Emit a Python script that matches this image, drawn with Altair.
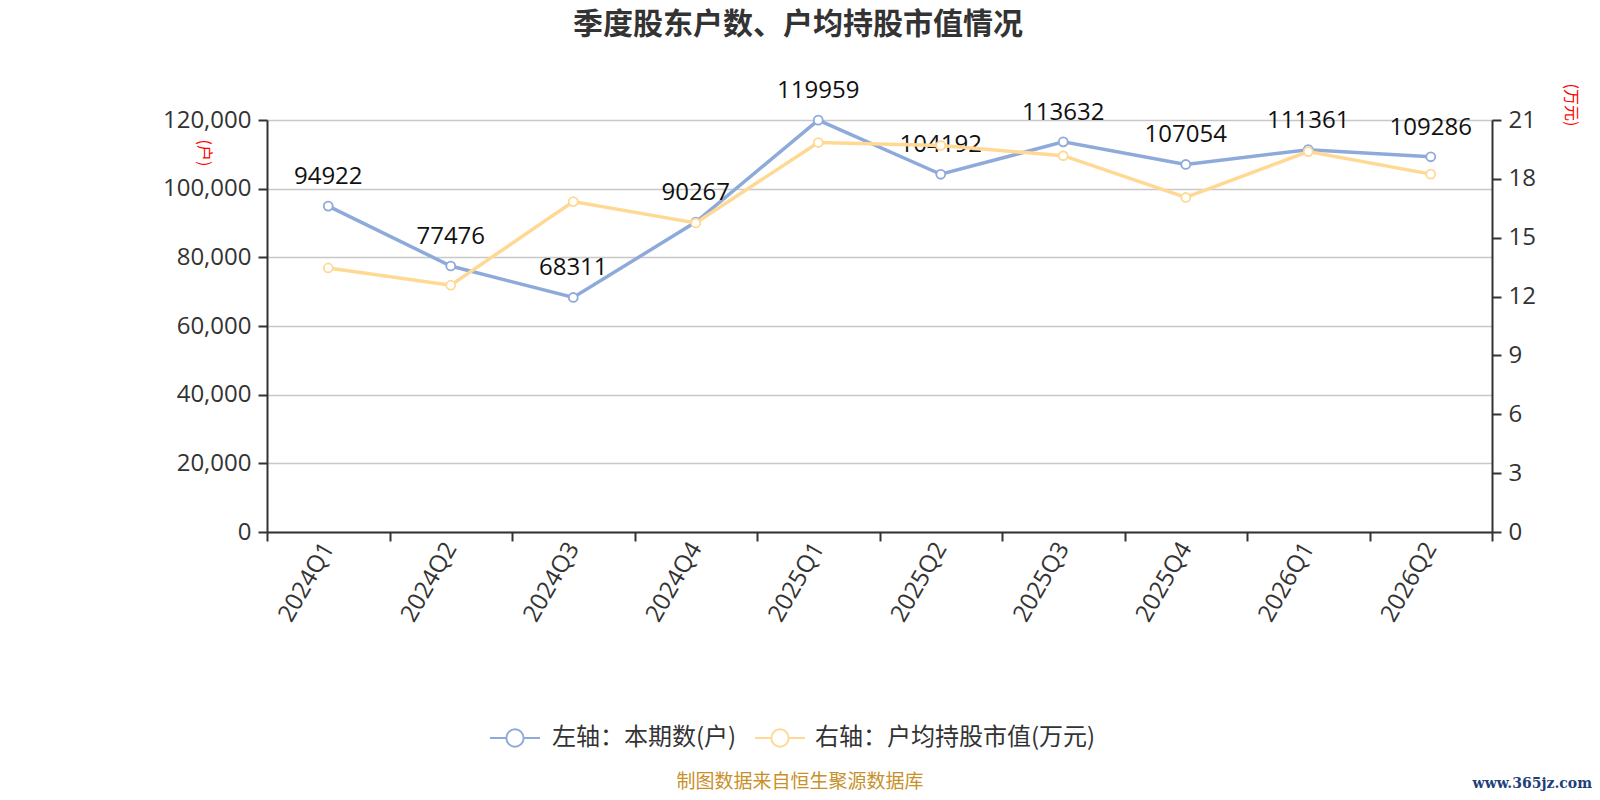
import altair as alt
import pandas as pd

quarters = ["2024Q1", "2024Q2", "2024Q3", "2024Q4", "2025Q1", "2025Q2", "2025Q3", "2025Q4", "2026Q1", "2026Q2"]
holders = [94922, 77476, 68311, 90267, 119959, 104192, 113632, 107054, 111361, 109286]
avg_value = [13.46, 12.58, 16.84, 15.75, 19.85, 19.70, 19.18, 17.05, 19.39, 18.24]

title_text = "季度股东户数、户均持股市值情况"
legend_left = "左轴：本期数(户)"
legend_right = "右轴：户均持股市值(万元)"
source_text = "制图数据来自恒生聚源数据库"
watermark_text = "www.365jz.com"
left_unit = "(户)"
right_unit = "(万元)"

BLUE = "#8eaadb"
YELLOW = "#ffd994"
FONT = "Open Sans, Noto Sans CJK SC"
CJK = "Noto Sans CJK SC"

df = pd.DataFrame({"q": quarters, "holders": holders, "avg": avg_value})

xenc = alt.X("q:N", sort=quarters, title=None,
             scale=alt.Scale(paddingInner=0, paddingOuter=0),
             axis=alt.Axis(labelAngle=-60, labelFontSize=24, labelColor="#333", labelFont=FONT,
                           domainColor="#333", domainWidth=2, tickColor="#333", tickWidth=2,
                           tickSize=9, tickBand="extent", labelPadding=3, grid=False))

base = alt.Chart(df)

left_y = alt.Y("holders:Q", title=None,
               scale=alt.Scale(domain=[0, 120000], nice=False),
               axis=alt.Axis(values=[0, 20000, 40000, 60000, 80000, 100000, 120000],
                             labelExpr="format(datum.value, ',')",
                             labelFontSize=24, labelColor="#333", labelFont=FONT,
                             domainColor="#333", domainWidth=2, tickColor="#333", tickWidth=2,
                             tickSize=9, gridColor="#c8c8c8", gridWidth=1.5, labelPadding=7))

blue_line = base.mark_line(color=BLUE, strokeWidth=3.5).encode(x=xenc, y=left_y)
blue_pts = base.mark_point(shape="circle", filled=True, fill="white", stroke=BLUE,
                           strokeWidth=1.8, size=80, opacity=1).encode(x=xenc, y=left_y)
blue_lbl = base.mark_text(dy=-29, fontSize=24, font=FONT, color="#111").encode(
    x=xenc, y=left_y, text="holders:Q")

left_layer = alt.layer(blue_line, blue_pts, blue_lbl)

right_y = alt.Y("avg:Q", title=None,
                scale=alt.Scale(domain=[0, 21], nice=False),
                axis=alt.Axis(orient="right", values=[0, 3, 6, 9, 12, 15, 18, 21],
                              labelFontSize=24, labelColor="#333", labelFont=FONT,
                              domainColor="#333", domainWidth=2, tickColor="#333", tickWidth=2,
                              tickSize=9, grid=False, labelPadding=7))

yellow_line = base.mark_line(color=YELLOW, strokeWidth=3.5).encode(x=xenc, y=right_y)
yellow_pts = base.mark_point(shape="circle", filled=True, fill="white", stroke=YELLOW,
                             strokeWidth=1.8, size=80, opacity=1).encode(x=xenc, y=right_y)
right_layer = alt.layer(yellow_line, yellow_pts)


def txt(s, x, y, **kw):
    return alt.Chart(pd.DataFrame({"t": [s]})).mark_text(**kw).encode(
        text="t:N", x=alt.value(x), y=alt.value(y))


title = txt(title_text, 531, -95, fontSize=30, fontWeight="bold", font=CJK, color="#333", align="center")
src = txt(source_text, 533, 662, fontSize=19, font=CJK, color="#c8902a", align="center")
wm = txt(watermark_text, 1325, 664, fontSize=14, fontWeight="bold", font="DejaVu Serif",
         color="#1f3f7a", align="right")
lu = txt(left_unit, -63, 33, fontSize=16, font=CJK, color="red", angle=90, align="center")
ru = txt(right_unit, 1304, -15, fontSize=16, font=CJK, color="red", angle=90, align="center")

LEGY = 618
leg1_txt = txt(legend_left, 285, LEGY, fontSize=24, font=CJK, color="#333", align="left")
leg2_txt = txt(legend_right, 548, LEGY, fontSize=24, font=CJK, color="#333", align="left")

one = pd.DataFrame({"k": [0]})
leg1_line = alt.Chart(one).mark_rule(color=BLUE, strokeWidth=2).encode(
    x=alt.value(223), x2=alt.value(273), y=alt.value(LEGY))
leg1_pt = alt.Chart(one).mark_point(shape="circle", filled=True, fill="white", stroke=BLUE,
                                    strokeWidth=2, size=300, opacity=1).encode(
    x=alt.value(248), y=alt.value(LEGY))
leg2_line = alt.Chart(one).mark_rule(color=YELLOW, strokeWidth=2).encode(
    x=alt.value(488), x2=alt.value(538), y=alt.value(LEGY))
leg2_pt = alt.Chart(one).mark_point(shape="circle", filled=True, fill="white", stroke=YELLOW,
                                    strokeWidth=2, size=300, opacity=1).encode(
    x=alt.value(513), y=alt.value(LEGY))

deco = alt.layer(title, src, wm, lu, ru, leg1_line, leg1_pt, leg2_line, leg2_pt, leg1_txt, leg2_txt)

chart = alt.layer(left_layer, right_layer, deco).resolve_scale(y="independent").properties(
    width=1225, height=412,
    autosize=alt.AutoSizeParams(type="none"),
    padding={"left": 259, "top": 112, "right": 100, "bottom": 260},
).configure_view(stroke=None).configure(background="white")

chart.save("out.html", embed_options={"renderer": "svg", "actions": False})
